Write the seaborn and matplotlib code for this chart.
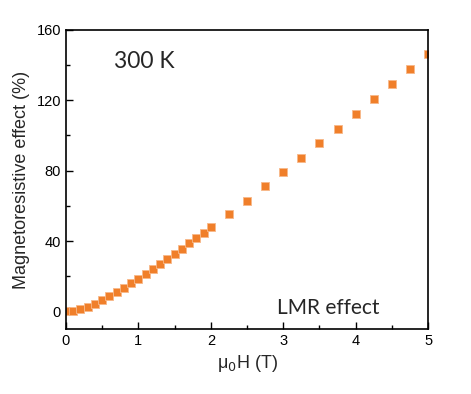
import matplotlib
matplotlib.use("Agg")
import matplotlib.pyplot as plt
import seaborn as sns
import pandas as pd
from matplotlib.ticker import MultipleLocator

field_T = [0.0, 0.1, 0.2, 0.3, 0.4, 0.5, 0.6, 0.7, 0.8, 0.9, 1.0,
           1.1, 1.2, 1.3, 1.4, 1.5, 1.6, 1.7, 1.8, 1.9, 2.0,
           2.25, 2.5, 2.75, 3.0, 3.25, 3.5, 3.75, 4.0, 4.25, 4.5, 4.75, 5.0]
mr_pct = [0.0, 0.5, 1.1, 2.5, 4.2, 6.3, 8.5, 10.8, 13.3, 15.9, 18.6,
          21.3, 24.1, 27.0, 29.8, 32.8, 35.7, 38.7, 41.7, 44.8, 47.8,
          55.4, 63.0, 71.2, 79.2, 87.3, 95.5, 103.8, 112.2, 120.5, 129.1, 137.6, 146.2]

df = pd.DataFrame({"B": field_T, "MR": mr_pct})

sns.set_style("white")
plt.rcParams['font.family'] = ['Liberation Sans', 'DejaVu Sans']

fig = plt.figure(figsize=(4.71, 3.94), dpi=100)
ax = fig.add_axes([0.140, 0.165, 0.769, 0.759])

sns.scatterplot(data=df, x="B", y="MR", ax=ax, marker="s", s=30,
                color="#F07F2A", edgecolor="#F7B98A", linewidth=0.6, legend=False)

ax.set_xlim(0, 5)
ax.set_ylim(-10, 160)
ax.xaxis.set_major_locator(MultipleLocator(1))
ax.xaxis.set_minor_locator(MultipleLocator(0.5))
ax.yaxis.set_major_locator(MultipleLocator(40))
ax.yaxis.set_minor_locator(MultipleLocator(20))
ax.tick_params(which="both", direction="in", bottom=True, left=True, top=False, right=False,
               colors="black", labelsize=10.5)
ax.tick_params(which="major", length=5, width=1)
ax.tick_params(which="minor", length=3, width=1)
for sp in ax.spines.values():
    sp.set_color("black")
    sp.set_linewidth(1.2)

ax.set_xlabel(r"μ$_0$H (T)", fontsize=13, labelpad=4)
ax.set_ylabel("Magnetoresistive effect (%)", fontsize=13, labelpad=5)

ax.text(0.215, 0.895, "300 K", transform=ax.transAxes, fontsize=16.5, ha="center", va="center",
        family=["Lato", "DejaVu Sans"])
ax.text(0.725, 0.07, "LMR effect", transform=ax.transAxes, fontsize=15, ha="center", va="center",
        family=["Lato", "DejaVu Sans"])

fig.savefig("out.png", dpi=100)
